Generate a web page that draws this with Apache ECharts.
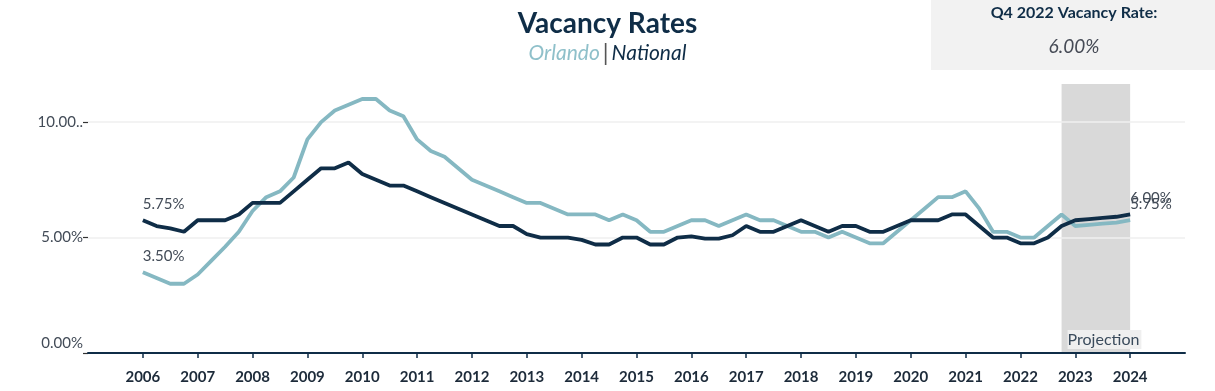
<!DOCTYPE html>
<html><head><meta charset="utf-8">
<script src="https://cdn.jsdelivr.net/npm/echarts@6/dist/echarts.min.js"></script>
<style>html,body{margin:0;padding:0;background:#fff}#c{width:1215px;height:391px}</style>
</head><body><div id="c"></div>
<script>
// Quarterly data, 2006 Q1 .. 2024 Q1
const startYear = 2006;
const yearTicks = [2006,2007,2008,2009,2010,2011,2012,2013,2014,2015,2016,2017,2018,2019,2020,2021,2022,2023,2024];
const orlando = [
  3.5, 3.25, 3.0, 3.0,
  3.4, 4.0, 4.6, 5.25,
  6.15, 6.75, 7.0, 7.6,
  9.25, 10.0, 10.5, 10.75,
  11.0, 11.0, 10.5, 10.25,
  9.25, 8.75, 8.5, 8.0,
  7.5, 7.25, 7.0, 6.75,
  6.5, 6.5, 6.25, 6.0,
  6.0, 6.0, 5.75, 6.0,
  5.75, 5.25, 5.25, 5.5,
  5.75, 5.75, 5.5, 5.75,
  6.0, 5.75, 5.75, 5.5,
  5.25, 5.25, 5.0, 5.25,
  5.0, 4.75, 4.75, 5.25,
  5.75, 6.25, 6.75, 6.75,
  7.0, 6.25, 5.25, 5.25,
  5.0, 5.0, 5.5, 6.0,
  5.5, 5.55, 5.6, 5.65,
  5.75
];
const national = [
  5.75, 5.5, 5.4, 5.25,
  5.75, 5.75, 5.75, 6.0,
  6.5, 6.5, 6.5, 7.0,
  7.5, 8.0, 8.0, 8.25,
  7.75, 7.5, 7.25, 7.25,
  7.0, 6.75, 6.5, 6.25,
  6.0, 5.75, 5.5, 5.5,
  5.15, 5.0, 5.0, 5.0,
  4.9, 4.7, 4.7, 5.0,
  5.0, 4.7, 4.7, 5.0,
  5.05, 4.95, 4.95, 5.1,
  5.5, 5.25, 5.25, 5.5,
  5.75, 5.5, 5.25, 5.5,
  5.5, 5.25, 5.25, 5.5,
  5.75, 5.75, 5.75, 6.0,
  6.0, 5.5, 5.0, 5.0,
  4.75, 4.75, 5.0, 5.5,
  5.75, 5.8, 5.85, 5.9,
  6.0
];
const yTickValues = [0, 5, 10];
const yTickLabels = ['0.00%', '5.00%', '10.00..'];
const projectionStart = 2022.75;
const projectionEnd = 2024;
const boxTitle = 'Q4 2022 Vacancy Rate:';
const boxValue = '6.00%';

const FONT = 'Lato, "Noto Sans", sans-serif';
const NAVY = '#0f2d47';
const TEAL = '#85b8c2';
const LABEL = '#424b57';

function toPoints(vals) {
  return vals.map((v, i) => {
    const p = { value: [startYear + i * 0.25, v] };
    if (i === 0 || i === vals.length - 1) {
      p.label = { show: true };
    }
    return p;
  });
}

const chart = echarts.init(document.getElementById('c'), null, { renderer: 'canvas' });
chart.setOption({
  animation: false,
  backgroundColor: '#fff',
  textStyle: { fontFamily: FONT },
  title: {
    text: 'Vacancy Rates',
    left: 'center',
    top: 5,
    textStyle: { fontFamily: FONT, fontSize: 28, fontWeight: 'bold', color: NAVY },
    subtext: '{o|Orlando}{s||}{n|National}',
    itemGap: 4,
    subtextStyle: {
      rich: {
        o: { fontFamily: FONT, fontSize: 21, fontStyle: 'italic', color: '#8fc0ca' },
        s: { fontFamily: FONT, fontSize: 23, color: '#555', padding: [0, 3, 0, 3] },
        n: { fontFamily: FONT, fontSize: 21, fontStyle: 'italic', color: NAVY }
      }
    }
  },
  graphic: [
    { type: 'rect', left: 931, top: 0, shape: { width: 284, height: 70 }, style: { fill: '#f2f2f2' }, z: -10 },
    { type: 'text', x: 1074, y: 13, style: { text: boxTitle, font: 'bold 16px ' + FONT, fill: NAVY, align: 'center', verticalAlign: 'middle' } },
    { type: 'text', x: 1074, y: 47, style: { text: boxValue, font: 'italic 19px ' + FONT, fill: '#454a55', align: 'center', verticalAlign: 'middle' } }
  ],
  grid: { left: 88, right: 30, top: 84, bottom: 38, containLabel: false },
  xAxis: {
    type: 'value',
    min: 2005, max: 2025, interval: 1,
    z: 3,
    splitLine: { show: false },
    axisLine: { show: true, lineStyle: { color: NAVY, width: 2 } },
    axisTick: { show: true, customValues: yearTicks, length: 5, lineStyle: { color: NAVY, width: 1.5 } },
    axisLabel: {
      customValues: yearTicks,
      formatter: v => String(v),
      fontFamily: FONT, fontSize: 15, fontWeight: 'bold', color: '#1d2b3a', margin: 17
    }
  },
  yAxis: {
    type: 'value',
    min: 0, max: 11.65, interval: 5,
    z: 1.5,
    axisLine: { show: false },
    axisTick: { show: true, customValues: yTickValues, length: 5, lineStyle: { color: '#333', width: 1.2 } },
    splitLine: { show: true, lineStyle: { color: '#efefef', width: 1.5 } },
    axisLabel: {
      customValues: yTickValues,
      margin: 5,
      formatter: v => {
        const i = yTickValues.indexOf(v);
        if (i < 0) return '';
        return i === 0 ? '{z|' + yTickLabels[i] + '}' : yTickLabels[i];
      },
      fontFamily: FONT, fontSize: 15, color: LABEL,
      rich: { z: { fontFamily: FONT, fontSize: 15, color: LABEL, padding: [0, 0, 20, 0] } }
    }
  },
  series: [
    {
      name: 'Orlando',
      type: 'line',
      data: toPoints(orlando),
      showSymbol: true,
      symbol: 'circle',
      symbolSize: 0,
      z: 2,
      lineStyle: { color: TEAL, width: 3.8 },
      itemStyle: { color: TEAL },
      label: {
        show: false, position: 'top', align: 'left', distance: 9,
        formatter: p => p.value[1].toFixed(2) + '%',
        fontFamily: FONT, fontSize: 15, color: LABEL
      },
      markArea: {
        silent: true,
        itemStyle: { color: '#d9d9d9' },
        label: {
          show: true, position: 'insideBottomLeft',
          offset: [1, 1],
          fontFamily: FONT, fontSize: 16, color: '#3a4b5c',
          backgroundColor: '#efefef', padding: [2, 2, 1, 0]
        },
        data: [[{ name: 'Projection', xAxis: projectionStart }, { xAxis: projectionEnd }]]
      }
    },
    {
      name: 'National',
      type: 'line',
      data: toPoints(national),
      showSymbol: true,
      symbol: 'circle',
      symbolSize: 0,
      z: 3,
      lineStyle: { color: NAVY, width: 3.8 },
      itemStyle: { color: NAVY },
      label: {
        show: false, position: 'top', align: 'left', distance: 9,
        formatter: p => p.value[1].toFixed(2) + '%',
        fontFamily: FONT, fontSize: 15, color: LABEL
      }
    }
  ]
});
</script>
</body></html>
